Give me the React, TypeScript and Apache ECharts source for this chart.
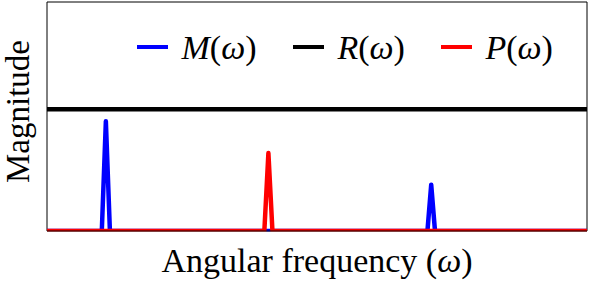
import React, { useEffect, useRef } from "react";
import * as echarts from "echarts";

// Angular frequency samples (x) and magnitudes for each spectrum
const mFreq = [0, 10.15, 10.9, 11.65, 70.45, 71.15, 71.85, 100];
const mMag = [0, 0, 0.9, 0, 0, 0.38, 0, 0];
const rFreq = [0, 100];
const rMag = [1, 1];
const pFreq = [0, 40.25, 41.0, 41.75, 100];
const pMag = [0, 0, 0.64, 0, 0];

const seriesNames = ["M", "R", "P"];
const seriesColors = ["#0000ff", "#000000", "#ff0000"];
const legendLeft = [137, 293, 441];

const FONT = "'Liberation Serif', 'DejaVu Serif', serif";

const zip = (xs: number[], ys: number[]) => xs.map((x, i) => [x, ys[i]]);

export default function App() {
  const ref = useRef<HTMLDivElement>(null);
  useEffect(() => {
    if (!ref.current) return;
    const chart = echarts.init(ref.current, undefined, { renderer: "svg" });
    const rich = {
      i: { fontFamily: FONT, fontStyle: "italic", fontSize: 34, color: "#000" },
      u: { fontFamily: FONT, fontSize: 34, color: "#000" },
    };
    const datas = [zip(mFreq, mMag), zip(rFreq, rMag), zip(pFreq, pMag)];
    chart.setOption({
      animation: false,
      backgroundColor: "#fff",
      grid: {
        left: 47,
        top: 2,
        right: 11,
        bottom: 51,
        show: true,
        borderColor: "#000",
        borderWidth: 1,
        containLabel: false,
        outerBoundsMode: "none",
        z: 0,
      },
      legend: seriesNames.map((n, k) => ({
        data: [n],
        left: legendLeft[k],
        top: 27,
        padding: 0,
        icon: "rect",
        itemWidth: 31,
        itemHeight: 4,
        itemGap: 0,
        selectedMode: false,
        formatter: (name: string) => `{u| }{i|${name}}{u|(}{i|ω}{u|)}`,
        textStyle: { rich, fontSize: 34, lineHeight: 40 },
      })),
      xAxis: {
        type: "value",
        min: 0,
        max: 100,
        name: "{u|Angular frequency (}{i|ω}{u|)}",
        nameLocation: "middle",
        nameGap: 12,
        nameTextStyle: { rich, fontSize: 34, verticalAlign: "top" },
        axisLine: { show: false },
        axisTick: { show: false },
        axisLabel: { show: false },
        splitLine: { show: false },
      },
      yAxis: {
        type: "value",
        min: 0,
        max: 1.88,
        name: "Magnitude",
        nameLocation: "middle",
        nameGap: 13,
        nameTextStyle: {
          fontFamily: FONT,
          fontSize: 33,
          lineHeight: 33,
          color: "#000",
          padding: [0, 0, 0, 10],
        },
        axisLine: { show: false },
        axisTick: { show: false },
        axisLabel: { show: false },
        splitLine: { show: false },
      },
      graphic: [
        {
          type: "rect",
          z: 100,
          shape: { x: 40, y: 231.5, width: 558, height: 6 },
          style: { fill: "#fff" },
        },
        {
          type: "line",
          z: 101,
          shape: { x1: 47, y1: 231, x2: 587, y2: 231 },
          style: { stroke: "#000", lineWidth: 1 },
        },
      ],
      series: seriesNames.map((n, k) => ({
        name: n,
        type: "line",
        data: datas[k],
        showSymbol: false,
        symbol: "none",
        clip: true,
        color: seriesColors[k],
        lineStyle: { width: 4.5, color: seriesColors[k], cap: "butt", join: "round" },
      })),
    });
    return () => chart.dispose();
  }, []);
  return <div ref={ref} style={{ width: 598, height: 282, position: "absolute", left: 0, top: 0 }} />;
}
